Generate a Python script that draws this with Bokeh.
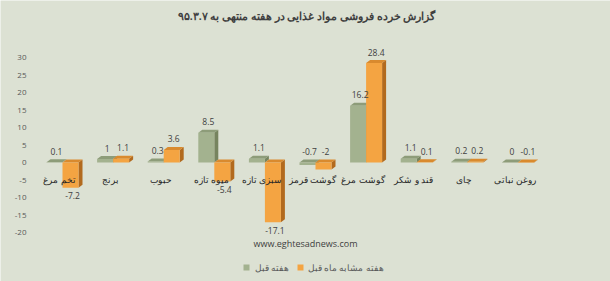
import numpy as np
from bokeh.plotting import figure
from bokeh.core.properties import value
from bokeh.embed import file_html
from bokeh.resources import INLINE

# ---------------- data ----------------
categories = ["تخم مرغ", "برنج", "حبوب", "میوه تازه", "سبزی تازه",
              "گوشت قرمز", "گوشت مرغ", "قند و شکر", "چای", "روغن نباتی"]
prev_week = [0.1, 1, 0.3, 8.5, 1.1, -0.7, 16.2, 1.1, 0.2, 0]
prev_month_week = [-7.2, 1.1, 3.6, -5.4, -17.1, -2, 28.4, 0.1, 0.2, -0.1]
series_names = ["هفته قبل", "هفته مشابه ماه قبل"]
y_ticks = [30, 25, 20, 15, 10, 5, 0, -5, -10, -15, -20]
title_text = "گزارش خرده فروشی مواد غذایی در هفته منتهی به ۹۵.۳.۷"
source_text = "www.eghtesadnews.com"

# ---------------- layout / style ----------------
W, H = 610, 281
X0PX, XSTEP = 62.0, 50.6      # px of first category centre, px per category
Y0PX, YSCALE = 162.0, 3.5     # px of zero line, px per unit
x_start, x_end = -X0PX / XSTEP, (W - X0PX) / XSTEP
y_end, y_start = Y0PX / YSCALE, -(H - Y0PX) / YSCALE

def xd(px):
    return (px - X0PX) / XSTEP

def yd(py):
    return (Y0PX - py) / YSCALE

BG = "#dce1d3"
FA_FONT = value("Noto Sans")
NUM_FONT = value("Open Sans")
front_cols = ["#a3b28f", "#f4a442"]
side_cols = ["#76845f", "#b26a1e"]
top_cols = ["#8d9c79", "#d98a2e"]

bw = 16 / XSTEP          # bar width in category units
ddx = 4 / XSTEP          # depth x
ddy = 3 / YSCALE         # depth y

p = figure(width=W, height=H, x_range=(x_start, x_end), y_range=(y_start, y_end),
           output_backend="svg", toolbar_location=None,
           x_axis_location=None, y_axis_location=None, min_border=0)
p.grid.visible = False
p.background_fill_color = BG
p.border_fill_color = BG
p.outline_line_color = None

idx = np.arange(len(categories), dtype=float)

label_specs = []
for s, vals in enumerate([prev_week, prev_month_week]):
    v = np.array(vals, dtype=float)
    left = idx - bw + s * bw
    right = left + bw
    top = np.maximum(v, 0)
    bot = np.minimum(v, 0)
    # side faces
    xs_side = [[r, r + ddx, r + ddx, r] for r in right]
    ys_side = [[b, b + ddy, t + ddy, t] for b, t in zip(bot, top)]
    p.patches(xs_side, ys_side, fill_color=side_cols[s], line_color=None)
    # top faces
    xs_top = [[l, l + ddx, r + ddx, r] for l, r in zip(left, right)]
    ys_top = [[t, t + ddy, t + ddy, t] for t in top]
    p.patches(xs_top, ys_top, fill_color=top_cols[s], line_color=None)
    # front faces
    p.quad(left=left, right=right, top=top, bottom=bot,
           fill_color=front_cols[s], line_color=None)
    lx = (left + right) / 2 + ddx / 2
    below = v < -3
    ly = np.where(below, v - 8 / YSCALE, top + ddy + 8 / YSCALE)
    label_specs.append((lx, ly, [("%g" % x) for x in v]))

# data labels (drawn above all bars)
for lx, ly, labels in label_specs:
    p.text(x=lx, y=ly, text=labels, text_font=NUM_FONT, text_font_size="8.5px",
           text_color="#404040", text_align="center", text_baseline="middle")

# category labels
p.text(x=idx - 3 / XSTEP, y=[yd(179)] * len(categories), text=categories,
       text_font=FA_FONT, text_font_size="8.5px", text_color="#262626",
       text_align="center", text_baseline="middle")

# y tick labels
p.text(x=[xd(26)] * len(y_ticks), y=y_ticks, text=[str(t) for t in y_ticks],
       text_font=NUM_FONT, text_font_size="8px", text_color="#595959",
       text_align="right", text_baseline="middle")

# title
p.text(x=[xd(306)], y=[yd(15)], text=[title_text], text_font=FA_FONT,
       text_font_size="10.5px", text_font_style="bold", text_color="#3f3f3f",
       text_align="center", text_baseline="middle")

# source
p.text(x=[xd(305)], y=[yd(243)], text=[source_text], text_font=NUM_FONT,
       text_font_size="9px", text_color="#404040",
       text_align="center", text_baseline="middle")

# legend
sq_px = [246, 300]
txt_px = [254, 307]
for s in range(2):
    p.scatter(x=[xd(sq_px[s])], y=[yd(267)], marker="square", size=6,
              fill_color=front_cols[s], line_color=None)
    p.text(x=[xd(txt_px[s])], y=[yd(267)], text=[series_names[s]], text_font=FA_FONT,
           text_font_size="9px", text_color="#595959",
           text_align="left", text_baseline="middle")

open("out.html", "w").write(file_html(p, INLINE))
